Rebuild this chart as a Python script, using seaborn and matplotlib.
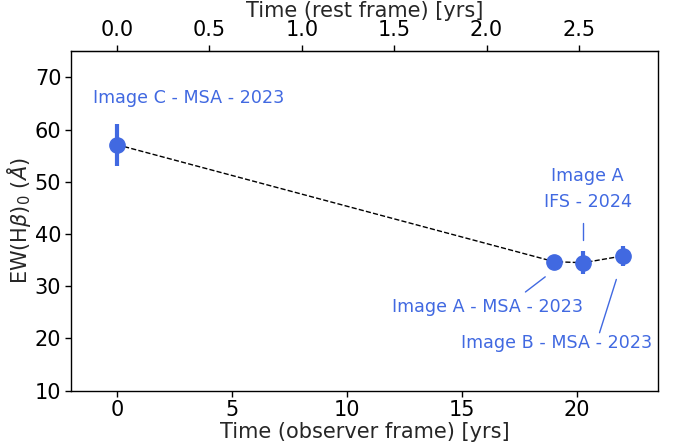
import matplotlib
matplotlib.use("Agg")
import matplotlib.pyplot as plt
import seaborn as sns
import pandas as pd

# donnees
t_obs = [0.0, 19.0, 20.27, 21.98]
ew = [57.1, 34.7, 34.5, 35.8]
ew_err = [4.0, 1.0, 2.2, 1.9]
facteur = 8.03  # (1+z) : temps observateur -> temps repos

labels = ["Image C - MSA - 2023", "Image A\nIFS - 2024", "Image A - MSA - 2023", "Image B - MSA - 2023"]
label_pos = [(3.12, 66.1), (20.45, 48.6), (16.1, 26.1), (19.12, 19.2)]
# traits de rappel (texte -> point)
connecteurs = [None, ((20.27, 20.27), (42.1, 38.9)), ((18.61, 17.75), (31.8, 28.9)), ((21.7, 20.97), (31.3, 21.1))]

bleu = "royalblue"
data = pd.DataFrame({"t": t_obs, "ew": ew})

sns.set_style("ticks")
plt.rcParams['font.family'] = ['DejaVu Sans']

fig = plt.figure(figsize=(6.76, 4.45), dpi=100)
ax = fig.add_axes([0.105, 0.122, 0.868, 0.763])

sns.lineplot(x="t", y="ew", data=data, ax=ax, color="black", linestyle="--", linewidth=1.0, zorder=2)
ax.errorbar(t_obs, ew, yerr=ew_err, fmt="o", color=bleu, markersize=11, elinewidth=3, capsize=0, zorder=3)

for lab, (x, y) in zip(labels, label_pos):
    ax.text(x, y, lab, color=bleu, fontsize=12.6, ha="center", va="center", linespacing=1.55)
for c in connecteurs:
    if c is not None:
        ax.plot(c[0], c[1], color=bleu, linewidth=1.0)

ax.set_xlim(-2, 23.5)
ax.set_ylim(10, 75)
ax.set_yticks([10, 20, 30, 40, 50, 60, 70])
ax.set_xticks([0, 5, 10, 15, 20])
ax.set_xlabel("Time (observer frame) [yrs]", fontsize=15, labelpad=1)
ax.set_ylabel(r"EW(H$\beta$)$_0$ ($\AA$)", fontsize=15, labelpad=1)
ax.tick_params(labelsize=15, width=1, length=4, colors="black", pad=3)
for s in ax.spines.values():
    s.set_color("black")
    s.set_linewidth(1.0)

top = ax.secondary_xaxis("top", functions=(lambda x: x / facteur, lambda x: x * facteur))
top.set_xticks([0.0, 0.5, 1.0, 1.5, 2.0, 2.5])
top.set_xticklabels(["0.0", "0.5", "1.0", "1.5", "2.0", "2.5"])
top.set_xlabel("Time (rest frame) [yrs]", fontsize=15, labelpad=2)
top.tick_params(labelsize=15, width=1, length=4, colors="black", pad=4)
top.spines["top"].set_color("black")

fig.savefig("out.png", dpi=100)
